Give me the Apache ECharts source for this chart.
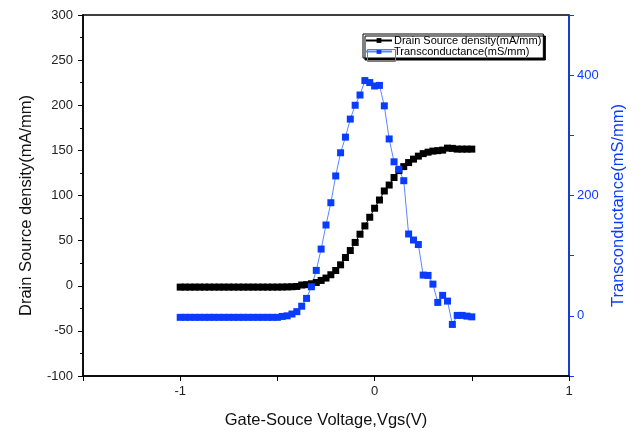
<!DOCTYPE html>
<html lang="en">
<head>
    <meta charset="UTF-8">
    <title>Transfer characteristics</title>
</head>
<body style="margin:0">
    <div id="main" style="width:642px;height:434px;"></div>
    <script src="https://cdn.jsdelivr.net/npm/echarts@6/dist/echarts.min.js"></script>
    <script>
        // gate-source voltage samples (V)
        var vgs = [-1, -0.975, -0.95, -0.925, -0.9, -0.875, -0.85, -0.825, -0.8, -0.775,
            -0.75, -0.725, -0.7, -0.675, -0.65, -0.625, -0.6, -0.575, -0.55, -0.525,
            -0.5, -0.475, -0.45, -0.425, -0.4, -0.375, -0.35, -0.325, -0.3, -0.275,
            -0.25, -0.225, -0.2, -0.175, -0.15, -0.125, -0.1, -0.075, -0.05, -0.025,
            0, 0.025, 0.05, 0.075, 0.1, 0.125, 0.15, 0.175, 0.2, 0.225,
            0.25, 0.275, 0.3, 0.325, 0.35, 0.375, 0.4, 0.425, 0.45, 0.475, 0.5];
        // drain source density (mA/mm), left axis
        var ids = [-1.5, -1.5, -1.5, -1.5, -1.5, -1.5, -1.5, -1.5, -1.5, -1.5,
            -1.5, -1.5, -1.5, -1.5, -1.5, -1.5, -1.5, -1.5, -1.5, -1.5,
            -1.5, -1.4, -1.3, -1.1, -0.8, 0.8, 1.2, 2.2, 3.6, 5.9,
            8.5, 12.2, 16.9, 23.2, 31.3, 39, 48, 57.1, 66.3, 75.9,
            85.9, 95, 105, 111.6, 119.9, 127.6, 132, 136.5, 140.3, 143.6,
            146.4, 148, 149.2, 149.7, 150.3, 152.5, 152.2, 151.4, 151.4, 151.4, 151.4];
        // transconductance (mS/mm), right axis
        var gm = [-2.5, -2.5, -2.5, -2.5, -2.5, -2.5, -2.5, -2.5, -2.5, -2.5,
            -2.5, -2.5, -2.5, -2.5, -2.5, -2.5, -2.5, -2.5, -2.5, -2.5,
            -2.5, -1, 0, 3, 7, 16, 29, 48.3, 75.5, 111,
            151, 188, 232.5, 271, 297, 327, 350, 367, 391, 387.7,
            382, 383, 349, 294, 256, 243.6, 224.6, 136, 126, 118.5,
            67.7, 67.2, 52.7, 22.3, 34, 24.5, -14.3, 0.7, 0.7, -0.5, -1.7];

        var font = 'Liberation Sans, Arial, sans-serif';
        var blue = '#0a3cff';

        var idsData = [], gmData = [];
        for (var i = 0; i < vgs.length; i++) {
            idsData.push([vgs[i], ids[i]]);
            gmData.push([vgs[i], gm[i]]);
        }

        var myChart = echarts.init(document.getElementById('main'));
        var option = {
            animation: false,
            textStyle: { fontFamily: font },
            grid: {
                left: 83, right: 73, top: 15, bottom: 57,
                show: true, borderColor: '#000', borderWidth: 1.5
            },
            legend: {
                left: 363, top: 34,
                orient: 'vertical',
                itemGap: 0,
                itemWidth: 26,
                itemHeight: 6,
                padding: [1, 2, 1, 2],
                backgroundColor: '#fff',
                borderColor: '#000',
                borderWidth: 1,
                shadowColor: '#000',
                shadowBlur: 0,
                shadowOffsetX: 2,
                shadowOffsetY: 2,
                textStyle: { fontSize: 11, color: '#000', fontFamily: font, padding: [0, 0, 0, -3] },
                data: ['Drain Source density(mA/mm)', 'Transconductance(mS/mm)']
            },
            xAxis: {
                type: 'value',
                min: -1.5, max: 1, interval: 0.5,
                name: 'Gate-Souce Voltage,Vgs(V)',
                nameLocation: 'middle', nameGap: 36,
                nameTextStyle: { fontSize: 16.5, color: '#111' },
                axisLine: { onZero: false, lineStyle: { color: '#000', width: 1.5 } },
                axisTick: { length: 5, lineStyle: { color: '#000' } },
                axisLabel: {
                    fontSize: 13, color: '#222', margin: 9,
                    formatter: function (v) { return Number.isInteger(v) ? String(v) : ''; }
                },
                splitLine: { show: false }
            },
            yAxis: [{
                type: 'value',
                min: -100, max: 300, interval: 50,
                name: 'Drain Source density(mA/mm)',
                nameLocation: 'middle', nameGap: 48,
                nameTextStyle: { fontSize: 16.5, color: '#111', padding: [0, 20, 0, 0] },
                axisLine: { show: true, onZero: false, lineStyle: { color: '#000', width: 1.5 } },
                axisTick: { length: 5, lineStyle: { color: '#000' } },
                minorTick: { show: true, splitNumber: 2, length: 3, lineStyle: { color: '#000' } },
                axisLabel: { fontSize: 13, color: '#222', margin: 10 },
                splitLine: { show: false }
            }, {
                type: 'value',
                position: 'right',
                min: -100, max: 500, interval: 100,
                name: 'Transconductance(mS/mm)',
                nameLocation: 'middle', nameGap: 41,
                nameTextStyle: { fontSize: 16.5, color: blue, padding: [0, 20, 0, 0] },
                axisLine: { show: true, onZero: false, lineStyle: { color: blue, width: 1.5 } },
                axisTick: { length: 5, lineStyle: { color: blue } },
                axisLabel: {
                    fontSize: 13, color: blue, margin: 8,
                    formatter: function (v) { return (v >= 0 && v % 200 === 0) ? String(v) : ''; }
                },
                splitLine: { show: false }
            }],
            series: [{
                name: 'Drain Source density(mA/mm)',
                type: 'line',
                yAxisIndex: 0,
                symbol: 'rect',
                symbolSize: 7,
                showAllSymbol: true,
                itemStyle: { color: '#000' },
                lineStyle: { color: '#000', width: 1 },
                data: idsData
            }, {
                name: 'Transconductance(mS/mm)',
                type: 'line',
                yAxisIndex: 1,
                symbol: 'rect',
                symbolSize: 7,
                showAllSymbol: true,
                itemStyle: { color: blue },
                lineStyle: { color: '#5a86ff', width: 1 },
                data: gmData
            }],
            graphic: [{
                type: 'rect',
                left: 365, top: 47,
                shape: { width: 28, height: 12 },
                style: { fill: null, stroke: '#e8503a', lineWidth: 1 },
                z: 100
            }]
        };
        myChart.setOption(option);
    </script>
</body>
</html>
